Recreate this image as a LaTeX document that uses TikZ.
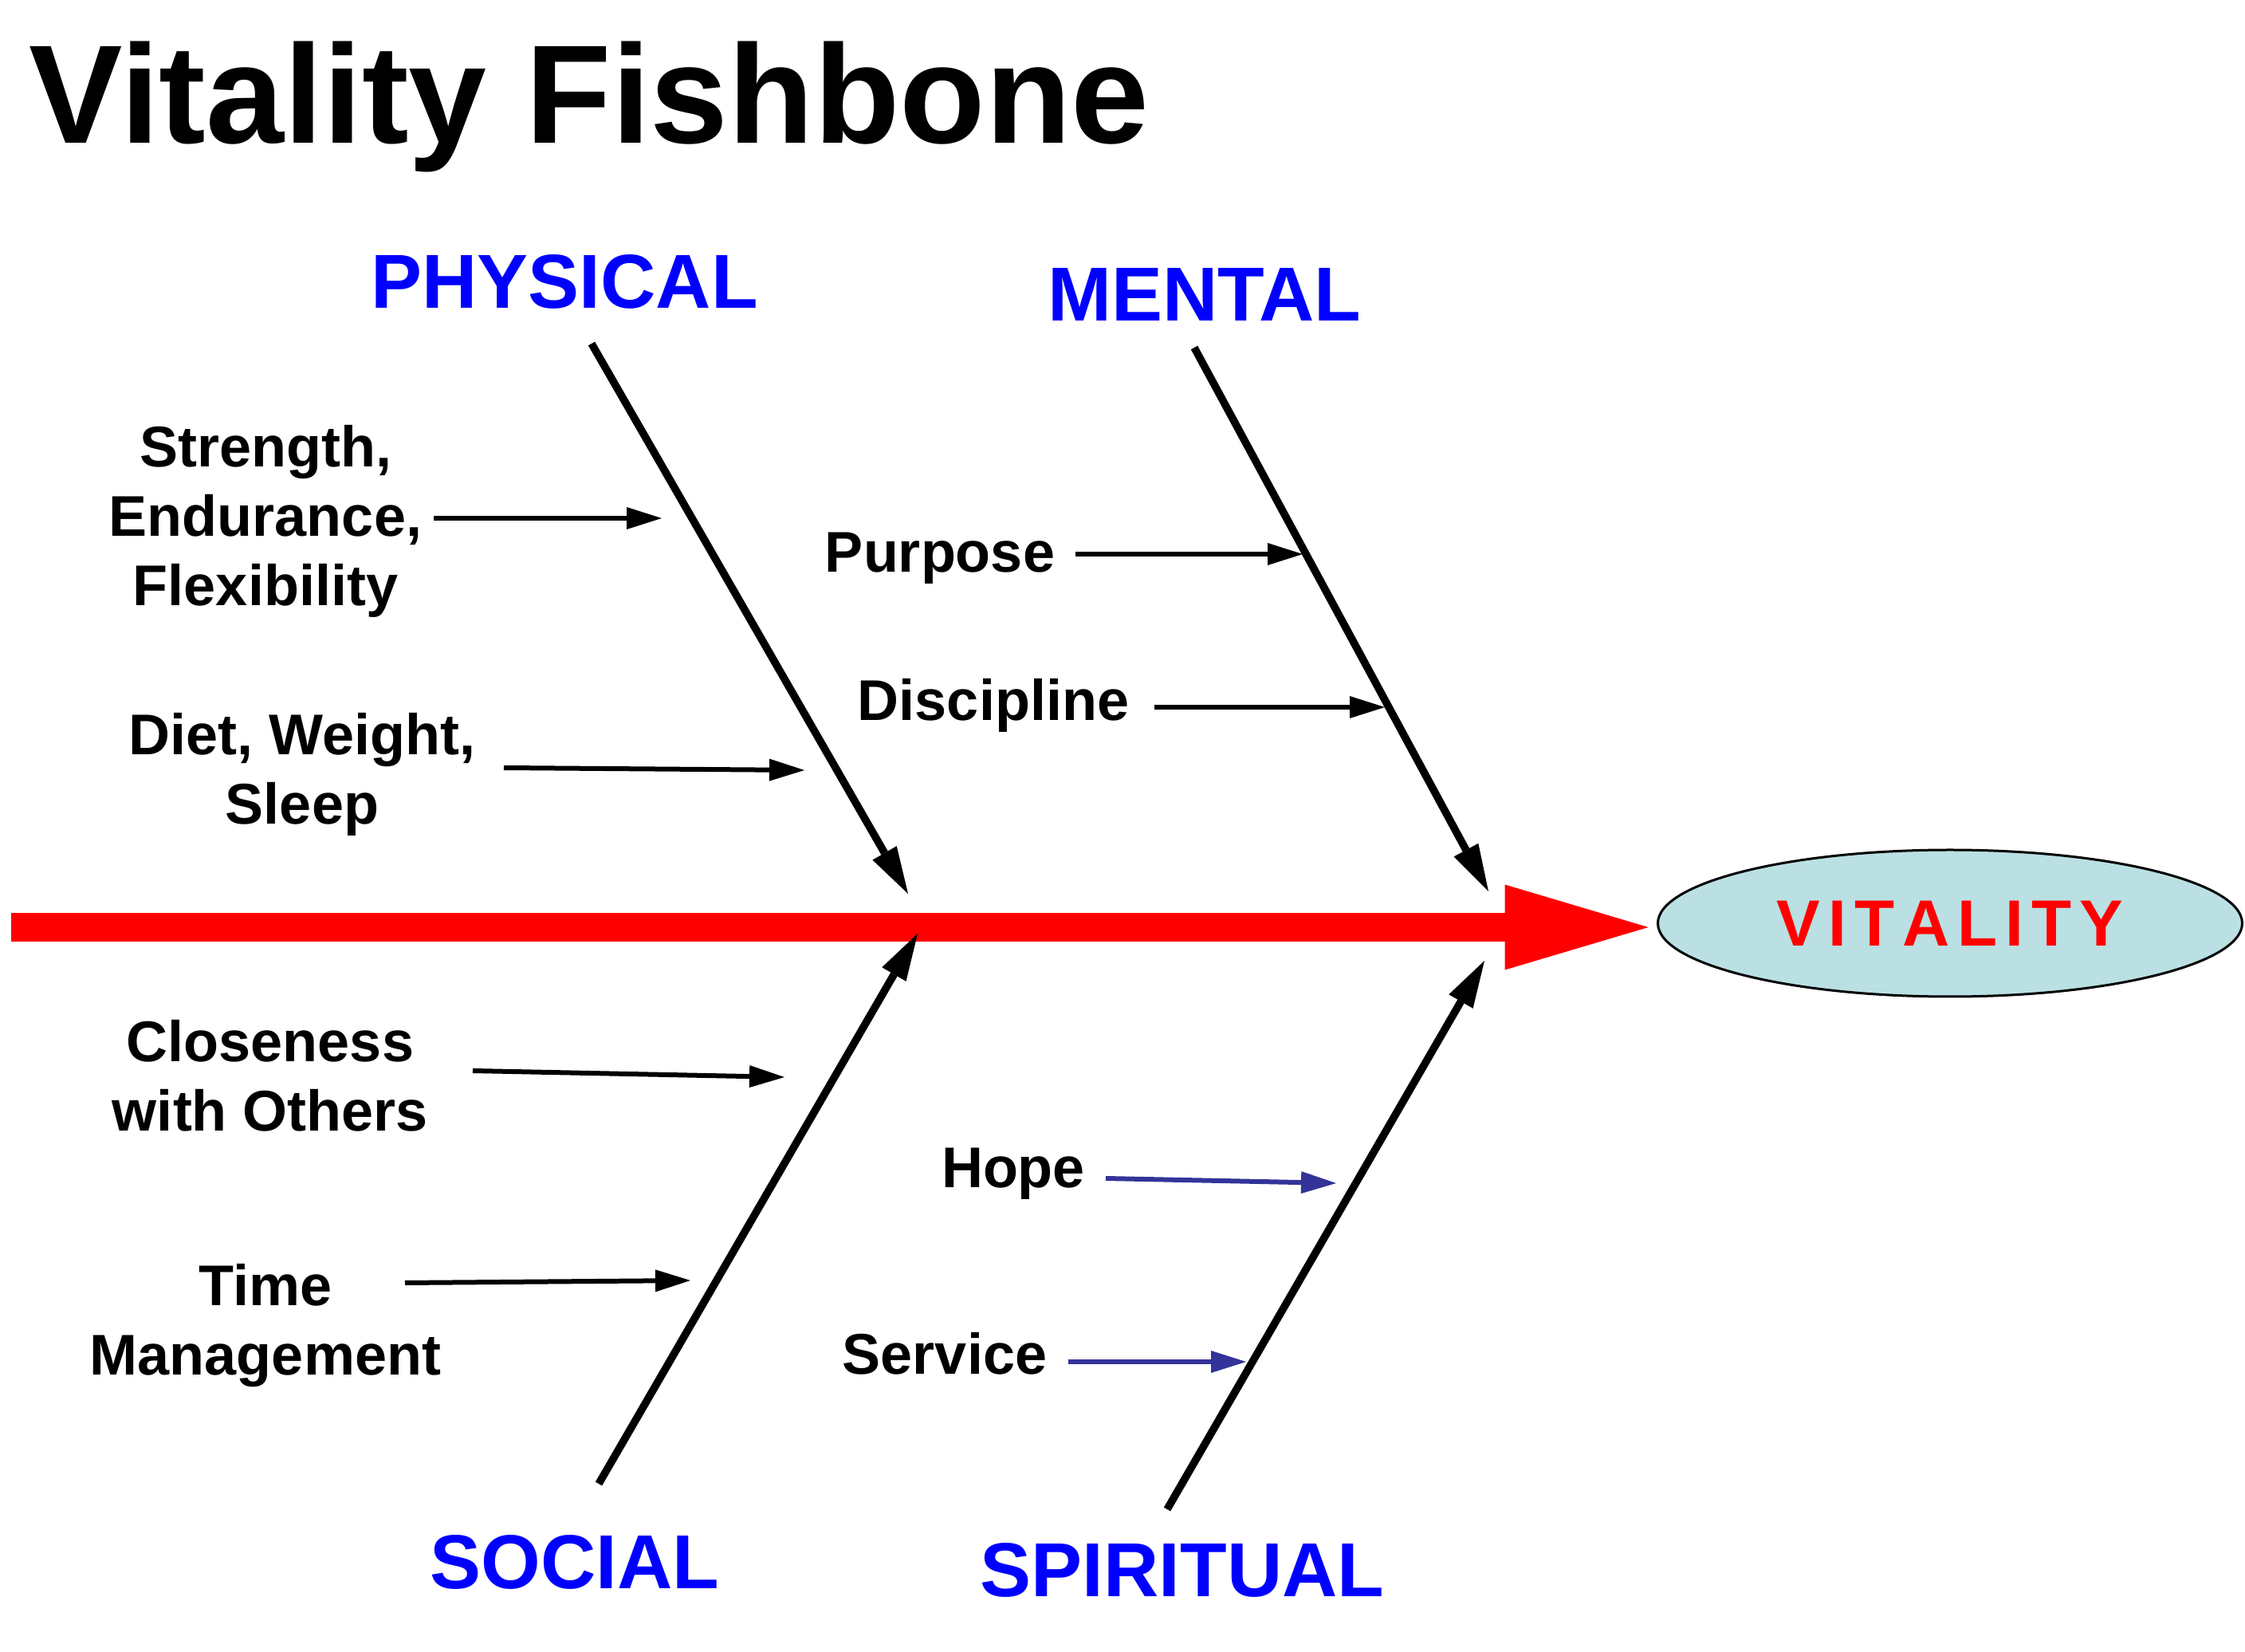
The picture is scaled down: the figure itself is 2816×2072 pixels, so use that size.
\documentclass[tikz,border=0pt]{standalone}
\usepackage{fontspec}
\setmainfont{Liberation Sans}
\usetikzlibrary{arrows.meta,shapes.geometric,calc}
\definecolor{catblue}{RGB}{0,0,255}
\definecolor{arrblue}{RGB}{51,51,153}
\definecolor{vitfill}{RGB}{186,224,227}
\definecolor{vitred}{RGB}{255,0,0}
\begin{document}
\begin{tikzpicture}[x=0.25pt,y=-0.25pt,
  titlestyle/.style={font=\bfseries\fontsize{44}{52}\selectfont, anchor=base west, inner sep=0pt},
  cat/.style={font=\bfseries\fontsize{24}{28}\selectfont, text=catblue, anchor=base, inner sep=0pt},
  lbl/.style={font=\bfseries\fontsize{18}{21.75}\selectfont, align=center, inner sep=0pt},
  bone/.style={draw=black, line width=2.4pt, -{Triangle[length=14.75pt,width=8.75pt,line width=0pt]}},
  twig/.style={draw=black, line width=1.5pt, -{Triangle[length=11pt,width=7pt,line width=0pt]}},
  bluetwig/.style={twig, draw=arrblue, color=arrblue},
  spine/.style={color=vitred, line width=9pt, -{Triangle[length=45pt,width=26.75pt,line width=0pt]}},
  goal/.style={ellipse, draw=black, line width=0.75pt, fill=vitfill, minimum width=183.25pt, minimum height=46pt, inner sep=0pt, text=vitred, font=\bfseries\fontsize{20.5}{24}\selectfont}
]
\useasboundingbox (0,0) rectangle (2816,2072);

% title
\node[titlestyle] (title) at (36,180) {Vitality Fishbone};

% effect
\node[goal] (vit) at (2446,1158) {V\kern2.5pt I\kern2.5pt T\kern2.5pt A\kern2.5pt L\kern2.5pt I\kern2.5pt T\kern2.5pt Y};

% category labels
\node[cat] (phys) at (708,387) {PHYSICAL};
\node[cat] (ment) at (1511,403) {MENTAL};
\node[cat] (soc) at (721,1992) {SOCIAL};
\node[cat] (spir) at (1483,2002) {SPIRITUAL};

% cause labels
\node[lbl] (str) at (333,654) {Strength,\\Endurance,\\Flexibility};
\node[lbl] (diet) at (379,971) {Diet, Weight,\\Sleep};
\node[lbl, anchor=base] (purp) at (1179,718) {Purpose};
\node[lbl, anchor=base] (disc) at (1246,904) {Discipline};
\node[lbl] (clos) at (339,1349) {Closeness\\with Others};
\node[lbl] (time) at (333,1663) {Time\\Management};
\node[lbl, anchor=base] (hope) at (1271,1490) {Hope};
\node[lbl, anchor=base] (serv) at (1185,1723) {Service};

% spine
\coordinate (spS) at (14,1163);
\draw[spine, shorten >=2.6pt] (spS) -- (vit.west |- spS);

% bones
\coordinate (physS) at (742,431);  \coordinate (physT) at (1139,1121);
\coordinate (mentS) at (1498,436); \coordinate (mentT) at (1867,1118);
\coordinate (socS) at (751,1861);  \coordinate (socT) at (1151,1171);
\coordinate (spirS) at (1464,1893); \coordinate (spirT) at (1862,1205);
\draw[bone] (physS) -- (physT);
\draw[bone] (mentS) -- (mentT);
\draw[bone] (socS) -- (socT);
\draw[bone] (spirS) -- (spirT);

% small cause arrows
\coordinate (strS) at (544,650);   \coordinate (strE) at (830,650);
\coordinate (dietS) at (632,963);  \coordinate (dietE) at (1009,966);
\coordinate (purpS) at (1349,695); \coordinate (purpE) at (1634,695);
\coordinate (discS) at (1448,887); \coordinate (discE) at (1737,887);
\coordinate (closS) at (593,1343); \coordinate (closE) at (984,1351);
\coordinate (timeS) at (508,1609); \coordinate (timeE) at (866,1606);
\coordinate (hopeS) at (1387,1478); \coordinate (hopeE) at (1676,1484);
\coordinate (servS) at (1340,1708); \coordinate (servE) at (1563,1708);
\draw[twig] (strS) -- (strE);
\draw[twig] (dietS) -- (dietE);
\draw[twig] (purpS) -- (purpE);
\draw[twig] (discS) -- (discE);
\draw[twig] (closS) -- (closE);
\draw[twig] (timeS) -- (timeE);
\draw[bluetwig] (hopeS) -- (hopeE);
\draw[bluetwig] (servS) -- (servE);
\end{tikzpicture}
\end{document}
